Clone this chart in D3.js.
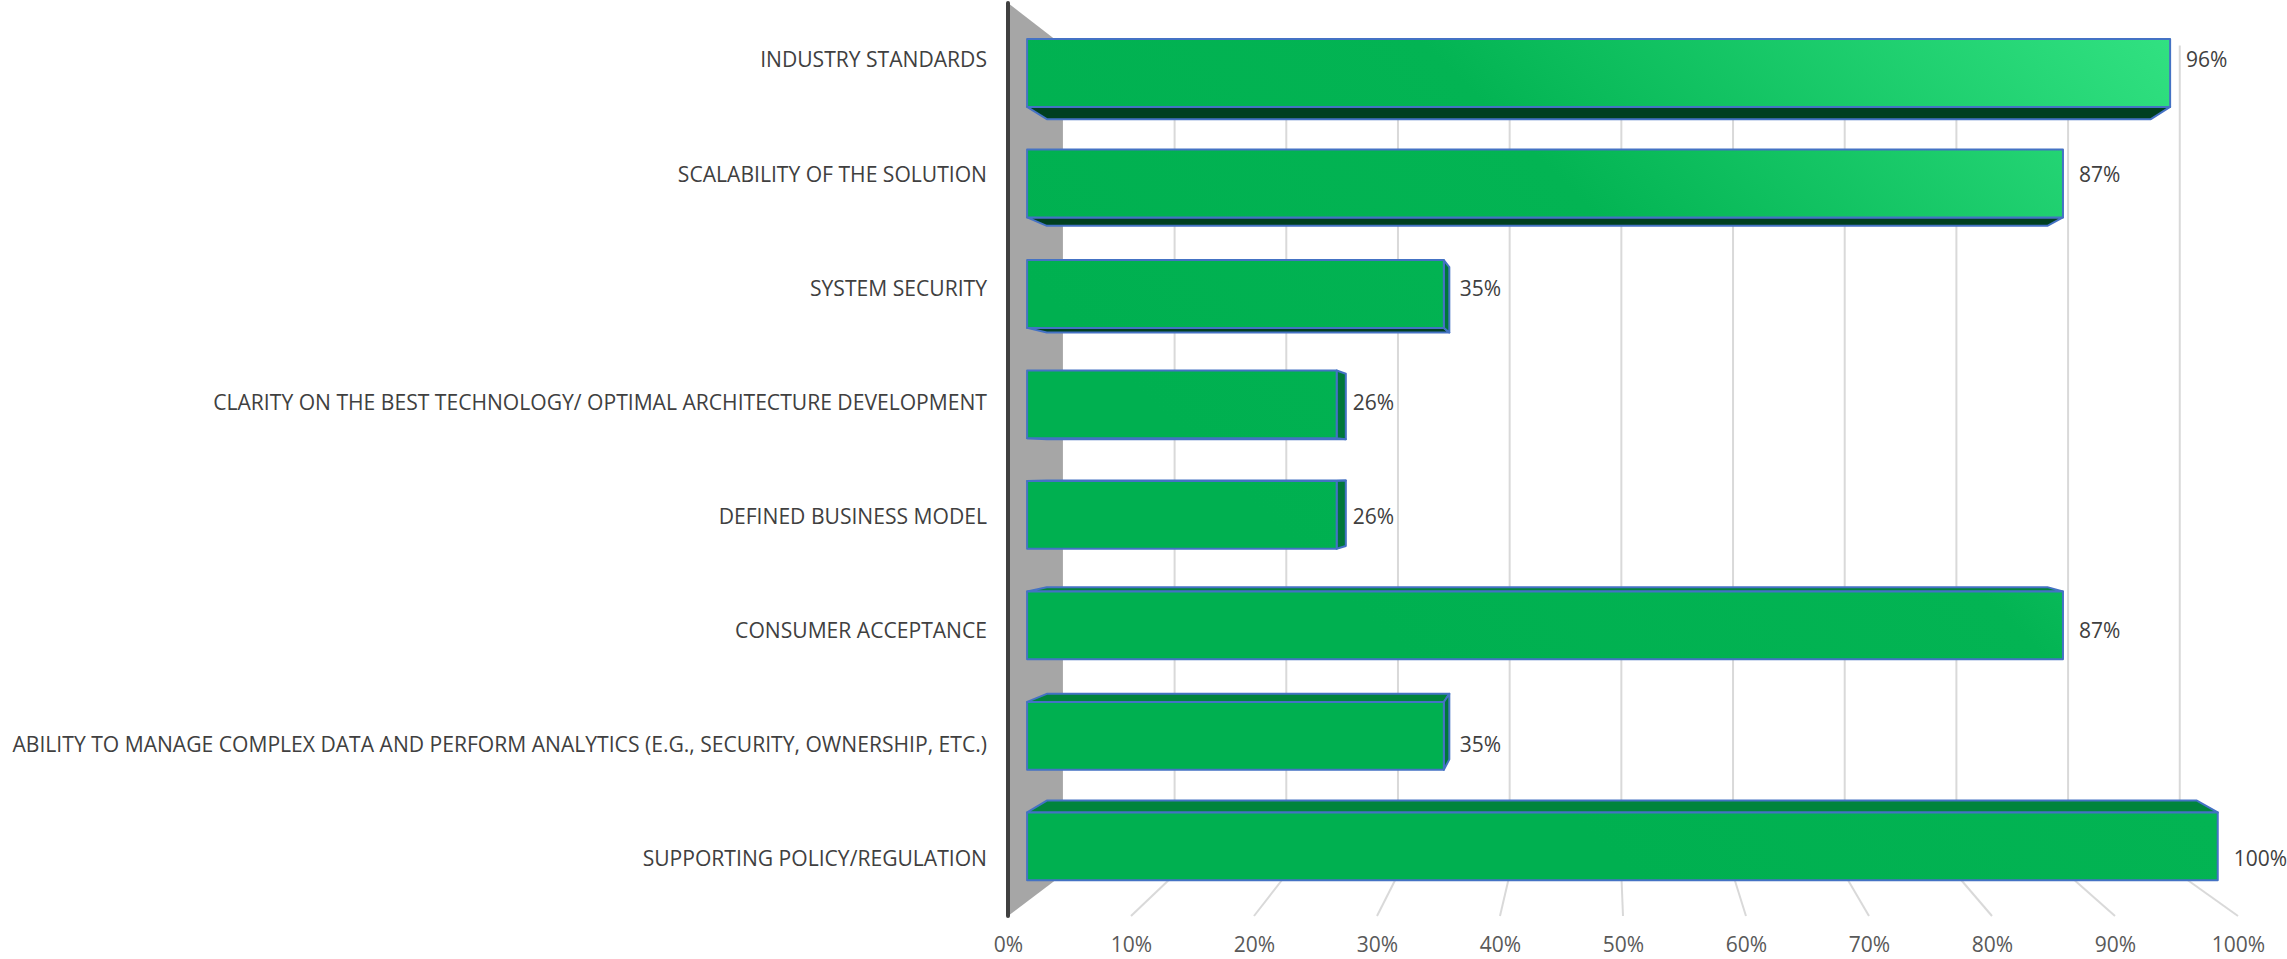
<!DOCTYPE html>
<html>
<head>
<meta charset="utf-8">
<script src="https://cdn.jsdelivr.net/npm/d3@7"></script>
<style>
  html, body { margin: 0; padding: 0; background: #ffffff; }
  svg { display: block; }
  text { font-family: "Open Sans", "Noto Sans", sans-serif; }
</style>
</head>
<body>
<svg id="chart" width="2287" height="959"></svg>
<script>
// Survey results, listed top to bottom
const categories = [
  "INDUSTRY STANDARDS",
  "SCALABILITY OF THE SOLUTION",
  "SYSTEM SECURITY",
  "CLARITY ON THE BEST TECHNOLOGY/ OPTIMAL ARCHITECTURE DEVELOPMENT",
  "DEFINED BUSINESS MODEL",
  "CONSUMER ACCEPTANCE",
  "ABILITY TO MANAGE COMPLEX DATA AND PERFORM ANALYTICS (E.G., SECURITY, OWNERSHIP, ETC.)",
  "SUPPORTING POLICY/REGULATION"
];
const values = [96, 87, 35, 26, 26, 87, 35, 100];
const tickValues = [0, 10, 20, 30, 40, 50, 60, 70, 80, 90, 100];
const tickLabels = ["0%", "10%", "20%", "30%", "40%", "50%", "60%", "70%", "80%", "90%", "100%"];

const svg = d3.select("#chart");

// Front plane scales (depth factor 1)
const x = d3.scaleLinear().domain([0, 100]).range([1008, 2238]);
const y = d3.scaleBand().domain(categories).range([3, 916])
  .paddingInner(0.386).paddingOuter(0.193);

// Simple perspective: points shrink toward a vanishing point as depth grows
const vp = { x: 1605, y: 465 };
const depth = { front: 1, barFront: 0.968, barBack: 0.935, wall: 0.908 };
function project(px, py, s) {
  return [vp.x + (px - vp.x) * s, vp.y + (py - vp.y) * s];
}
const poly = pts => "M" + pts.map(p => p.join(",")).join("L") + "Z";

const [yTop, yBottom] = y.range();

// Lighting gradient on the bar fronts, brightest toward the upper right
const defs = svg.append("defs");
const grad = defs.append("linearGradient")
  .attr("id", "barFront")
  .attr("gradientUnits", "userSpaceOnUse")
  .attr("x1", 1500).attr("y1", 750).attr("x2", 2200).attr("y2", 40);
[[0, "#00b050"], [0.45, "#03b453"], [1, "#33e383"]].forEach(([o, c]) =>
  grad.append("stop").attr("offset", o).attr("stop-color", c));

// Left side wall
const wall = [
  project(x(0), yTop, depth.front),
  project(x(0), yTop, depth.wall),
  project(x(0), yBottom, depth.wall),
  project(x(0), yBottom, depth.front)
];
svg.append("path").attr("d", poly(wall)).attr("fill", "#a6a6a6");

// Back wall gridlines
const grid = svg.append("g").attr("stroke", "#d9d9d9").attr("stroke-width", 2).attr("fill", "none");
tickValues.filter(v => v > 0).forEach(v => {
  const a = project(x(v), yTop, depth.wall);
  const b = project(x(v), yBottom, depth.wall);
  grid.append("line").attr("x1", a[0]).attr("y1", a[1]).attr("x2", b[0]).attr("y2", b[1]);
});
// Floor gridlines
tickValues.filter(v => v > 0).forEach(v => {
  const a = project(x(v), yBottom, depth.front);
  const b = project(x(v), yBottom, depth.wall);
  grid.append("line").attr("x1", a[0]).attr("y1", a[1]).attr("x2", b[0]).attr("y2", b[1]);
});

// Vertical axis line at the front edge of the wall
svg.append("line")
  .attr("x1", x(0)).attr("x2", x(0)).attr("y1", yTop).attr("y2", yBottom)
  .attr("stroke", "#404040").attr("stroke-width", 4).attr("stroke-linecap", "round");

// Bars as 3D boxes
const bars = svg.append("g").attr("stroke", "#4472c4").attr("stroke-width", 2).attr("stroke-linejoin", "round");
categories.forEach((c, i) => {
  const v = values[i];
  const x0 = x(0), x1 = x(v);
  const y0 = y(c), y1 = y(c) + y.bandwidth();
  const F = (px, py) => project(px, py, depth.barFront);
  const B = (px, py) => project(px, py, depth.barBack);
  const g = bars.append("g");
  if (y0 > vp.y) {
    g.append("path").attr("d", poly([F(x0, y0), B(x0, y0), B(x1, y0), F(x1, y0)])).attr("fill", "#00843c");
  }
  if (y1 < vp.y) {
    g.append("path").attr("d", poly([F(x0, y1), B(x0, y1), B(x1, y1), F(x1, y1)])).attr("fill", "#003f20");
  }
  if (x1 < vp.x) {
    g.append("path").attr("d", poly([F(x1, y0), B(x1, y0), B(x1, y1), F(x1, y1)])).attr("fill", "#00773a");
  }
  g.append("path").attr("d", poly([F(x0, y0), F(x1, y0), F(x1, y1), F(x0, y1)])).attr("fill", "url(#barFront)");
});

// Value labels
svg.append("g").selectAll("text").data(categories).join("text")
  .attr("x", (c, i) => project(x(values[i]), 0, depth.barFront)[0] + 16)
  .attr("y", c => y(c) + y.bandwidth() / 2)
  .attr("dy", "0.35em")
  .attr("font-size", 21)
  .attr("fill", "#404040")
  .text((c, i) => values[i] + "%");

// Category labels
svg.append("g").selectAll("text").data(categories).join("text")
  .attr("x", 987)
  .attr("y", c => y(c) + y.bandwidth() / 2)
  .attr("dy", "0.35em")
  .attr("text-anchor", "end")
  .attr("font-size", 21.1)
  .attr("fill", "#404040")
  .text(c => c);

// Horizontal axis labels along the front floor edge
const axis = d3.axisBottom(x)
  .tickValues(tickValues)
  .tickFormat((d, i) => tickLabels[i])
  .tickSize(0)
  .tickPadding(0);
const axisG = svg.append("g").attr("transform", "translate(0,937)").call(axis);
axisG.select(".domain").remove();
axisG.selectAll("text")
  .attr("font-family", "\"Open Sans\", \"Noto Sans\", sans-serif")
  .attr("font-size", 21)
  .attr("fill", "#595959");
</script>
</body>
</html>
